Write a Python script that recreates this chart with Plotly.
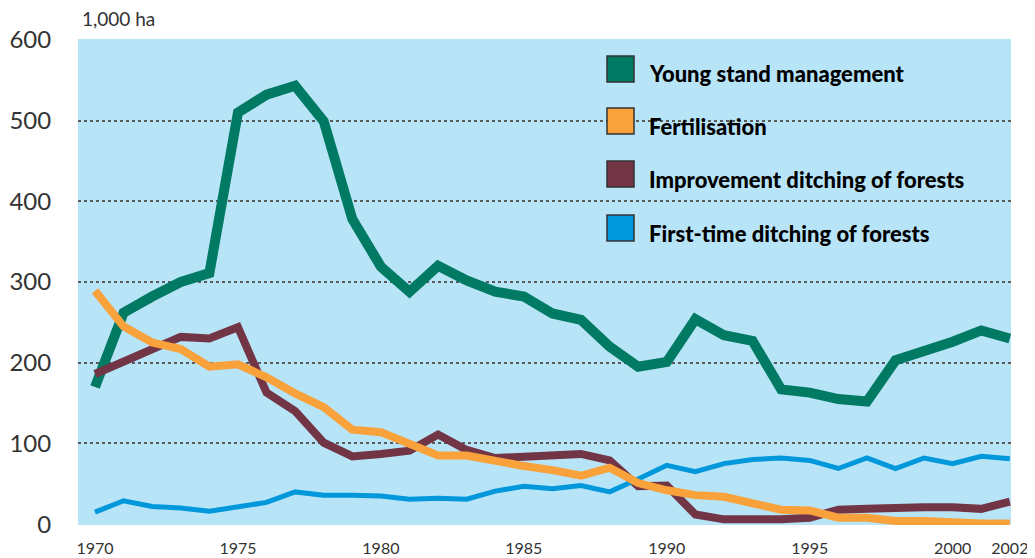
import plotly.graph_objects as go

years = list(range(1970, 2003))

series_names = [
    "Young stand management",
    "Fertilisation",
    "Improvement ditching of forests",
    "First-time ditching of forests",
]

young_stand = [170, 262, 282, 300, 311, 510, 532, 543, 499, 378, 319, 288, 320, 302,
               288, 282, 261, 253, 220, 195, 201, 254, 234, 227, 167, 163, 155, 152,
               203, 213, 226, 240, 230]
fertilisation = [289, 245, 225, 217, 195, 198, 182, 162, 145, 117, 114, 100, 85, 85,
                 78, 72, 67, 60, 70, 51, 42, 36, 34, 26, 18, 17, 8, 8,
                 4, 4, 2, 1, 1]
improvement = [186, 201, 217, 232, 230, 244, 163, 140, 101, 84, 87, 91, 111, 92,
               82, 84, 87, 87, 79, 47, 48, 12, 6, 5, 6, 8, 18, 19,
               21, 21, 21, 19, 28]
first_time = [15, 29, 22, 20, 16, 21, 27, 40, 36, 36, 35, 31, 32, 31,
              41, 47, 44, 48, 40, 56, 73, 65, 75, 80, 82, 79, 69, 82,
              69, 82, 75, 84, 81]

x_tickvals = [1970, 1975, 1980, 1985, 1990, 1995, 2000, 2002]
x_ticktext = ["1970", "1975", "1980", "1985", "1990", "1995", "2000", "2002"]
y_tickvals = [0, 100, 200, 300, 400, 500, 600]

colors = ["#007A63", "#F9A13A", "#723545", "#0098DA"]
widths = [10, 8, 8, 5]
values = [young_stand, fertilisation, improvement, first_time]

BG = "#B8E4F8"
FONT = "Lato, Roboto, sans-serif"

fig = go.Figure()
# drawing order: green bottom, maroon, blue, orange on top
for i in [0, 2, 3, 1]:
    fig.add_trace(go.Scatter(
        x=years, y=values[i], mode="lines", name=series_names[i],
        line=dict(color=colors[i], width=widths[i]),
        showlegend=False, hoverinfo="skip",
    ))

# page body adds an 8px offset; the figure is sized so the plot area lands
# at x 78..1011, y 39..525 of the window
fig.update_layout(
    width=1027, height=550,
    margin=dict(l=70, r=24, t=31, b=33),
    paper_bgcolor="white",
    plot_bgcolor=BG,
    showlegend=False,
    font=dict(family=FONT, color="#333333"),
)
fig.update_xaxes(
    range=[1969.405, 2002.04],
    tickvals=x_tickvals, ticktext=x_ticktext,
    showgrid=False, zeroline=False, showline=False, automargin=False,
    ticks="outside", ticklen=9, tickcolor="rgba(0,0,0,0)",
    tickfont=dict(size=16, family=FONT, color="#333333"),
)
fig.update_yaxes(
    range=[-1, 601],
    tickvals=y_tickvals,
    showgrid=True, gridcolor="#5a5a5a", griddash="dot", gridwidth=1.5,
    zeroline=False, showline=False, automargin=False,
    ticks="outside", ticklen=21, tickcolor="rgba(0,0,0,0)",
    tickfont=dict(size=24, family=FONT, color="#333333"),
)

# hide gridline behind the legend area (as in the reference)
fig.add_shape(type="rect", xref="paper", yref="y",
              x0=(578 - 78) / 933, x1=(893 - 78) / 933, y0=490, y1=510,
              fillcolor=BG, line=dict(width=0), layer="between")

# unit label
fig.add_annotation(xref="paper", yref="paper", x=(80 - 78) / 933, y=1 + (39 - 18) / 486,
                   xanchor="left", yanchor="middle", showarrow=False,
                   text="1,000 ha", font=dict(size=19, family=FONT, color="#333333"))

# legend drawn as squares + text
sq_tops = [56, 108, 161, 215]
for i, top in enumerate(sq_tops):
    x0 = (607 - 78) / 933
    x1 = (634 - 78) / 933
    y0 = 1 - (top - 39) / 486
    y1 = 1 - (top + 26 - 39) / 486
    fig.add_shape(type="rect", xref="paper", yref="paper",
                  x0=x0, x1=x1, y0=y1, y1=y0,
                  fillcolor=colors[i], line=dict(color="#333333", width=1.5))
    fig.add_annotation(xref="paper", yref="paper",
                       x=(647 - 78) / 933, y=1 - (top + 18 - 39) / 486,
                       xanchor="left", yanchor="middle", showarrow=False,
                       text=series_names[i],
                       font=dict(size=22, family=FONT, color="#000000", weight=900))

fig.write_html("out.html")
